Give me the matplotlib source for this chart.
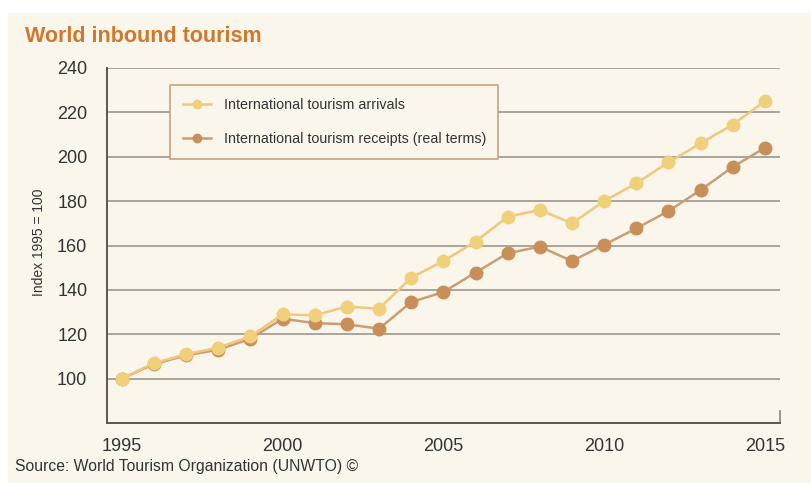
import matplotlib
matplotlib.use("Agg")
import matplotlib.pyplot as plt
from matplotlib.patches import Rectangle

years = list(range(1995, 2016))
arrivals = [100, 107, 111, 114, 119, 129, 128.5, 132.5, 131.5, 145.5, 153,
            161.7, 173, 176, 170, 180, 188, 197.5, 206, 214.5, 225]
receipts = [100, 106.5, 110.5, 113, 118, 127, 125, 124.5, 122.5, 134.5, 139,
            147.8, 156.5, 159.5, 153, 160.3, 167.7, 175.5, 185, 195.4, 204]
y_ticks = [100, 120, 140, 160, 180, 200, 220, 240]
x_ticks = [1995, 2000, 2005, 2010, 2015]

plt.rcParams["font.family"] = ["Liberation Sans", "DejaVu Sans"]

W, H = 812, 483
fig = plt.figure(figsize=(W / 100, H / 100), dpi=100)
fig.patch.set_facecolor("white")
cream = "#FAF6EC"
fig.patches.append(Rectangle((8 / W, 0), 1 - 8 / W, (H - 13) / H,
                             transform=fig.transFigure, facecolor=cream,
                             edgecolor="none", zorder=-10))

ax = fig.add_axes([106.7 / W, (H - 423) / H, (780 - 106.7) / W, (423 - 68) / H])
ax.set_facecolor("none")
ax.set_zorder(2)

arr_line, arr_mark = "#F2C77C", "#F1D07C"
rec_line, rec_mark = "#C99E74", "#C98F58"

ax.plot(years, arrivals, color=arr_line, lw=1.8, marker="o", ms=9,
        mfc=arr_mark, mec=arr_mark, zorder=4,
        label="International tourism arrivals")
ax.plot(years, receipts, color=rec_line, lw=1.8, marker="o", ms=9,
        mfc=rec_mark, mec=rec_mark, zorder=3,
        label="International tourism receipts (real terms)")

ax.set_xlim(1994.53, 2015.47)
ax.set_ylim(80, 240)
ax.set_yticks(y_ticks)
ax.set_xticks(x_ticks)
ax.tick_params(axis="both", length=0, labelsize=13, colors="#333333")
ax.tick_params(axis="y", pad=14)
ax.tick_params(axis="x", pad=11)
for v in y_ticks:
    ax.axhline(v, color="#A8A39B", lw=1.4, zorder=1)

for s in ("top", "right"):
    ax.spines[s].set_visible(False)
for s in ("left", "bottom"):
    ax.spines[s].set_color("#5A5650")
    ax.spines[s].set_linewidth(1.4)
# small end mark at the right of the x axis
ax.plot([1, 1], [0, 0.035], transform=ax.transAxes, color="#8A857E",
        lw=1.2, clip_on=False)

ax.set_ylabel("Index 1995 = 100", fontsize=10, color="#333333")
ax.yaxis.set_label_coords(-0.090, 0.51)

leg_top = (423 - 85) / 355
leg = ax.legend(loc="upper left",
                bbox_to_anchor=((170 - 106.7) / 673.3, leg_top - 0.1,
                                (498 - 170) / 673.3, 0.1),
                mode="expand", fontsize=10.3, frameon=True, fancybox=False,
                handlelength=2.0, handletextpad=0.9, labelspacing=1.4,
                borderpad=0.9, borderaxespad=0)
leg.get_frame().set_edgecolor("#C9A37E")
leg.get_frame().set_facecolor(cream)
leg.get_frame().set_linewidth(1.2)
leg.get_frame().set_alpha(1)
for t in leg.get_texts():
    t.set_color("#333333")
for h in leg.legend_handles:
    h.set_markersize(6)

fig.text(25 / W, 1 - 36 / H, "World inbound tourism", fontsize=15.5,
         fontweight="bold", color="#D2772C", va="center", ha="left")
fig.text(15 / W, 1 - 467 / H, "Source: World Tourism Organization (UNWTO) \u00a9",
         fontsize=11.3, color="#333333", va="center", ha="left")

fig.savefig("out.png", dpi=100, facecolor=fig.get_facecolor())
